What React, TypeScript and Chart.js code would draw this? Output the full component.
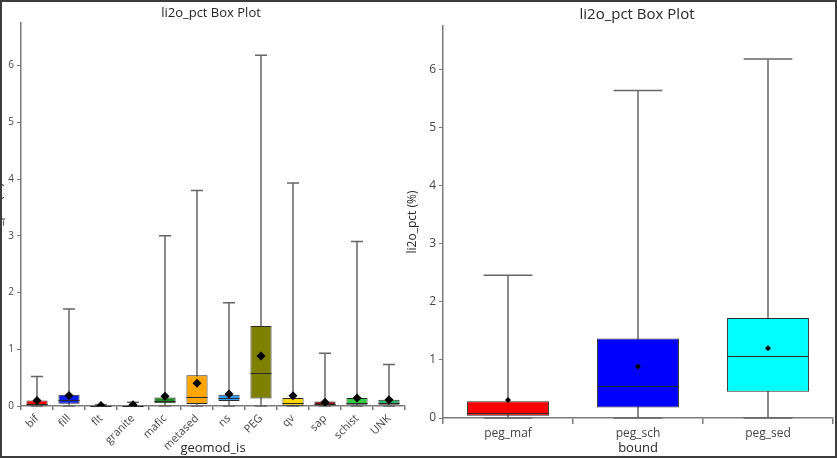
import React, { useEffect, useRef } from "react";
import { Chart, registerables } from "chart.js";

Chart.register(...registerables);

// ---------- data ----------
const leftCategories = ["bif", "fill", "flt", "granite", "mafic", "metased", "ns", "PEG", "qv", "sap", "schist", "UNK"];
const leftMin = [0, 0, 0, 0, 0, 0, 0, 0, 0, 0, 0, 0];
const leftQ1 = [0.0, 0.04, 0.0, 0.0, 0.05, 0.035, 0.09, 0.13, 0.005, 0.01, 0.02, 0.02];
const leftMedian = [0.03, 0.1, 0.005, 0.005, 0.08, 0.16, 0.14, 0.58, 0.06, 0.04, 0.05, 0.05];
const leftQ3 = [0.095, 0.2, 0.01, 0.01, 0.15, 0.54, 0.2, 1.41, 0.14, 0.08, 0.14, 0.11];
const leftMax = [0.52, 1.71, 0.02, 0.065, 3.0, 3.8, 1.82, 6.18, 3.93, 0.93, 2.9, 0.73];
const leftMean = [0.095, 0.185, 0.01, 0.02, 0.17, 0.4, 0.21, 0.88, 0.18, 0.065, 0.14, 0.11];
const leftColors = ["#ff0000", "#0a1ee6", "#333333", "#d22020", "#1e8c1e", "#ffa500", "#3399ff", "#808000", "#ffd700", "#8b0000", "#33cc44", "#2db36b"];

const rightCategories = ["peg_maf", "peg_sch", "peg_sed"];
const rightMin = [0, 0, 0];
const rightQ1 = [0.04, 0.18, 0.45];
const rightMedian = [0.086, 0.55, 1.07];
const rightQ3 = [0.29, 1.37, 1.72];
const rightMax = [2.46, 5.64, 6.18];
const rightMean = [0.31, 0.885, 1.2];
const rightColors = ["#ff0000", "#0000ff", "#00ffff"];

const yMaxValue = 6.75;
const yStep = 1;

const chartTitle = "li2o_pct Box Plot";
const yTitle = "li2o_pct (%)";
const leftXTitle = "geomod_is";
const rightXTitle = "bound";

const FONT = "'Open Sans', 'Noto Sans', sans-serif";
const TICK_COLOR = "#444444";
const TITLE_COLOR = "#262626";
const AXIS_COLOR = "#7a7a7a";

// ---------- plugins ----------
const boxPlugin = {
  id: "boxWhisker",
  beforeDatasetsDraw(chart: any, _args: any, opts: any) {
    const { ctx } = chart;
    const x = chart.scales.x;
    const y = chart.scales.y;
    const n = opts.min.length;
    const catW = n > 1 ? x.getPixelForValue(1) - x.getPixelForValue(0) : x.width;
    const capW = catW * opts.capFraction;
    ctx.save();
    ctx.strokeStyle = opts.whiskerColor;
    ctx.lineWidth = opts.whiskerWidth;
    for (let i = 0; i < n; i++) {
      const cx = x.getPixelForValue(i);
      const y0 = y.getPixelForValue(opts.min[i]);
      const y1 = y.getPixelForValue(opts.max[i]);
      ctx.beginPath();
      ctx.moveTo(cx, y0);
      ctx.lineTo(cx, y1);
      ctx.moveTo(cx - capW / 2, y1);
      ctx.lineTo(cx + capW / 2, y1);
      ctx.moveTo(cx - capW / 2, y0);
      ctx.lineTo(cx + capW / 2, y0);
      ctx.stroke();
    }
    ctx.restore();
  },
  afterDatasetDraw(chart: any, args: any, opts: any) {
    if (args.index !== opts.boxIndex) return;
    const { ctx } = chart;
    const y = chart.scales.y;
    const meta = chart.getDatasetMeta(args.index);
    ctx.save();
    ctx.strokeStyle = opts.medianColor;
    ctx.lineWidth = opts.medianWidth;
    meta.data.forEach((el: any, i: number) => {
      const py = Math.round(y.getPixelForValue(opts.median[i])) + 0.5;
      ctx.beginPath();
      ctx.moveTo(el.x - el.width / 2, py);
      ctx.lineTo(el.x + el.width / 2, py);
      ctx.stroke();
    });
    ctx.restore();
  },
};

const titlePlugin = {
  id: "panelTitle",
  afterDraw(chart: any, _args: any, opts: any) {
    const { ctx, chartArea } = chart;
    ctx.save();
    ctx.font = `${opts.size}px ${FONT}`;
    ctx.fillStyle = TITLE_COLOR;
    ctx.textAlign = "center";
    ctx.textBaseline = "middle";
    ctx.fillText(opts.text, (chartArea.left + chartArea.right) / 2 + opts.dx, opts.y);
    ctx.restore();
  },
};

type PanelCfg = {
  categories: string[];
  min: number[];
  q1: number[];
  median: number[];
  q3: number[];
  max: number[];
  mean: number[];
  colors: string[];
  barPct: number;
  meanRadius: number;
  yAxisWidth: number;
  xAxisHeight: number;
  paddingRight: number;
  yTitlePad: number;
  yTickSize: number;
  xTickSize: number;
  xTitleSize: number;
  yTitleSize: number;
  rotation: number;
  xTickLength: number;
  titleSize: number;
  titleY: number;
  titleDx: number;
  xTitle: string;
};

function buildConfig(c: PanelCfg): any {
  return {
    type: "bar",
    data: {
      labels: c.categories,
      datasets: [
        {
          type: "line",
          label: "mean",
          data: c.mean,
          showLine: false,
          pointStyle: "rectRot",
          pointRadius: c.meanRadius,
          pointBackgroundColor: "#000000",
          pointBorderColor: "#000000",
          pointBorderWidth: 0,
          order: 0,
        },
        {
          type: "bar",
          label: "box",
          data: c.q1.map((v, i) => [v, c.q3[i]]),
          backgroundColor: c.colors,
          borderColor: "#2a2a2a",
          borderWidth: 1,
          borderSkipped: false,
          barPercentage: c.barPct,
          categoryPercentage: 1,
          order: 1,
        },
      ],
    },
    options: {
      responsive: false,
      animation: false,
      events: [],
      layout: { padding: { left: 0, right: c.paddingRight, top: 0, bottom: 0 } },
      plugins: {
        legend: { display: false },
        tooltip: { enabled: false },
        title: { display: false },
        boxWhisker: {
          min: c.min,
          max: c.max,
          median: c.median,
          capFraction: 0.375,
          whiskerColor: "#666666",
          whiskerWidth: 1.5,
          medianColor: "#2a2a2a",
          medianWidth: 1,
          boxIndex: 1,
        },
        panelTitle: { text: chartTitle, size: c.titleSize, y: c.titleY, dx: c.titleDx },
      },
      scales: {
        x: {
          type: "category",
          offset: true,
          grid: {
            display: true,
            drawOnChartArea: false,
            drawTicks: true,
            tickLength: c.xTickLength,
            color: AXIS_COLOR,
            lineWidth: 1.5,
            offset: true,
          },
          border: { display: true, color: AXIS_COLOR, width: 1.5 },
          ticks: {
            color: TICK_COLOR,
            font: { family: FONT, size: c.xTickSize },
            minRotation: c.rotation,
            maxRotation: c.rotation,
            autoSkip: false,
            padding: 2,
          },
          title: {
            display: true,
            text: c.xTitle,
            color: TITLE_COLOR,
            font: { family: FONT, size: c.xTitleSize },
            padding: { top: 0, bottom: 2 },
          },
          afterFit(scale: any) {
            scale.height = c.xAxisHeight;
          },
        },
        y: {
          type: "linear",
          min: 0,
          max: yMaxValue,
          grid: {
            display: true,
            drawOnChartArea: false,
            drawTicks: true,
            tickLength: 4,
            color: AXIS_COLOR,
            lineWidth: 1,
          },
          border: { display: true, color: AXIS_COLOR, width: 1.5 },
          ticks: {
            stepSize: yStep,
            includeBounds: false,
            color: TICK_COLOR,
            font: { family: FONT, size: c.yTickSize },
            padding: 3,
          },
          title: {
            display: true,
            text: yTitle,
            color: TITLE_COLOR,
            font: { family: FONT, size: c.yTitleSize },
            padding: { top: c.yTitlePad, bottom: 0 },
          },
          afterFit(scale: any) {
            scale.width = c.yAxisWidth;
          },
        },
      },
    },
    plugins: [boxPlugin, titlePlugin],
  };
}

function Panel(props: { cfg: PanelCfg; left: number; width: number; topPad: number }) {
  const ref = useRef<HTMLCanvasElement | null>(null);
  useEffect(() => {
    if (!ref.current) return;
    const config = buildConfig(props.cfg);
    config.options.layout.padding.top = props.topPad;
    const chart = new Chart(ref.current, config);
    return () => chart.destroy();
  }, []);
  return (
    <canvas
      ref={ref}
      width={props.width}
      height={458}
      style={{ position: "absolute", left: props.left, top: 0, width: props.width, height: 458 }}
    />
  );
}

const leftCfg: PanelCfg = {
  categories: leftCategories,
  min: leftMin,
  q1: leftQ1,
  median: leftMedian,
  q3: leftQ3,
  max: leftMax,
  mean: leftMean,
  colors: leftColors,
  barPct: 0.66,
  meanRadius: 4.5,
  yAxisWidth: 31,
  xAxisHeight: 52,
  paddingRight: 5,
  yTitlePad: 1,
  yTickSize: 10,
  xTickSize: 11,
  xTitleSize: 13,
  yTitleSize: 12,
  rotation: 45,
  xTickLength: 4,
  titleSize: 13,
  titleY: 13,
  titleDx: -2,
  xTitle: leftXTitle,
};

const rightCfg: PanelCfg = {
  categories: rightCategories,
  min: rightMin,
  q1: rightQ1,
  median: rightMedian,
  q3: rightQ3,
  max: rightMax,
  mean: rightMean,
  colors: rightColors,
  barPct: 0.63,
  meanRadius: 3,
  yAxisWidth: 43,
  xAxisHeight: 40,
  paddingRight: 1,
  yTitlePad: 5,
  yTickSize: 12,
  xTickSize: 12,
  xTitleSize: 13,
  yTitleSize: 12,
  rotation: 0,
  xTickLength: 6,
  titleSize: 15,
  titleY: 15,
  titleDx: -1,
  xTitle: rightXTitle,
};

export default function App() {
  useEffect(() => {
    document.body.style.margin = "0";
  }, []);
  return (
    <div
      style={{
        position: "absolute",
        left: 0,
        top: 0,
        width: 837,
        height: 458,
        overflow: "hidden",
        background: "#ffffff",
      }}
    >
      <Panel cfg={leftCfg} left={-10} width={420} topPad={23} />
      <Panel cfg={rightCfg} left={400} width={437} topPad={26} />
      <div
        style={{
          position: "absolute",
          left: 0,
          top: 0,
          width: 837,
          height: 458,
          boxSizing: "border-box",
          border: "2px solid #3c3c3c",
          pointerEvents: "none",
        }}
      />
    </div>
  );
}
